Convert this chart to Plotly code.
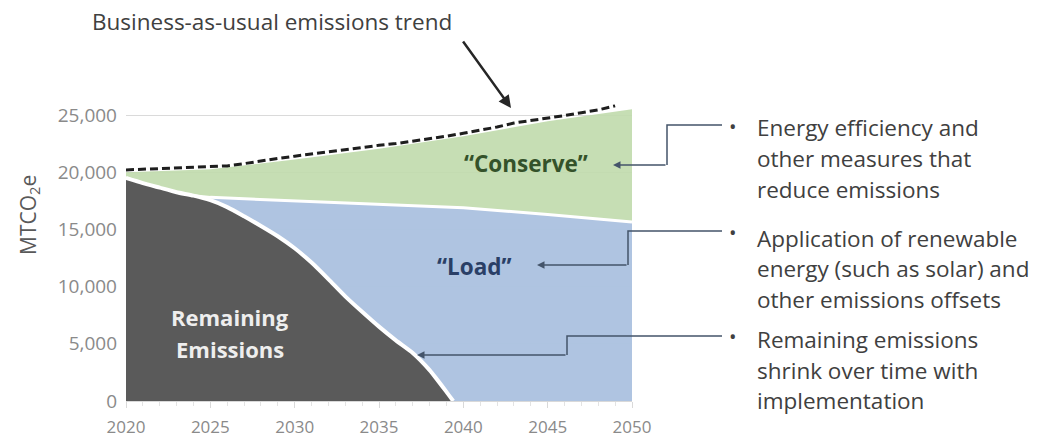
import plotly.graph_objects as go

# ---- data ----
bau_years = list(range(2020, 2050))
bau_trend = [20200, 20250, 20300, 20350, 20400, 20450, 20550, 20750, 21000, 21200,
             21400, 21600, 21800, 22000, 22200, 22350, 22500, 22700, 22900, 23150,
             23400, 23650, 23950, 24300, 24500, 24700, 24950, 25200, 25450, 25800]

conserve_years = [2020, 2025, 2030, 2035, 2040, 2045, 2050]
conserve_top = [20000, 20250, 21100, 22050, 23150, 24450, 25500]

load_years = [2020, 2021, 2022, 2023, 2024, 2025, 2030, 2035, 2040, 2045, 2050]
load_top = [19500, 19000, 18550, 18200, 17950, 17800, 17500, 17250, 16900, 16300, 15650]

remaining_years = [2020, 2021, 2022, 2023, 2024, 2025, 2026, 2027, 2028, 2029, 2030,
                   2031, 2032, 2033, 2034, 2035, 2036, 2037, 2038, 2039, 2039.4]
remaining = [19500, 19050, 18650, 18250, 17950, 17550, 16950, 16150, 15300, 14400, 13350,
             12100, 10650, 9150, 7800, 6500, 5300, 4200, 2700, 800, 0]

y_ticks = [0, 5000, 10000, 15000, 20000, 25000]
x_ticks = [2020, 2025, 2030, 2035, 2040, 2045, 2050]

bullets = [
    ["Energy efficiency and", "other measures that", "reduce emissions"],
    ["Application of renewable", "energy (such as solar) and", "other emissions offsets"],
    ["Remaining emissions", "shrink over time with", "implementation"],
]

# ---- layout geometry (pixels) ----
W, H = 1048, 439
L, R, T, B = 126, 632, 80, 401


def px(x):
    return (x - L) / (R - L)


def py(y):
    return (B - y) / (B - T)


FONT = "Open Sans"
TXT = "#404040"

fig = go.Figure()

fig.add_trace(go.Scatter(x=conserve_years, y=conserve_top, mode="lines", fill="tozeroy",
                         fillcolor="rgba(192,218,172,0.9)", line=dict(width=0),
                         hoverinfo="skip", showlegend=False))
fig.add_trace(go.Scatter(x=load_years, y=load_top, mode="lines", fill="tozeroy",
                         fillcolor="rgba(172,193,230,0.9)", line=dict(color="white", width=3),
                         hoverinfo="skip", showlegend=False))
fig.add_trace(go.Scatter(x=remaining_years, y=remaining, mode="lines", fill="tozeroy",
                         fillcolor="#5a5a5a", line=dict(color="white", width=4, shape="spline", smoothing=0.6),
                         hoverinfo="skip", showlegend=False))
fig.add_trace(go.Scatter(x=bau_years, y=bau_trend, mode="lines",
                         line=dict(color="#1e1e1e", width=3, dash="8px,4px"),
                         hoverinfo="skip", showlegend=False))

annotations = []


def label(x, y, text, size, color, bold=False, xanchor="center", angle=0):
    f = dict(family=FONT, size=size, color=color)
    if bold:
        f["weight"] = "bold"
    annotations.append(dict(xref="paper", yref="paper", x=px(x), y=py(y), text=text,
                            xanchor=xanchor, yanchor="middle", showarrow=False,
                            textangle=angle, font=f))


def arrow(tip_x, tip_y, tail_x, tail_y, width, color):
    annotations.append(dict(xref="paper", yref="paper", x=px(tip_x), y=py(tip_y), text="",
                            showarrow=True, ax=tail_x - tip_x, ay=tail_y - tip_y,
                            arrowhead=2, arrowsize=1, arrowwidth=width, arrowcolor=color))


# top caption + arrow
label(272, 21, "Business-as-usual emissions trend", 22.5, TXT)
arrow(511, 108, 462, 40, 2.5, "#262626")

# y axis title
label(29, 215, "MTCO<sub>2</sub>e", 21, "#595959", angle=-90)

# in-chart labels
label(526, 163, "\u201cConserve\u201d", 22.5, "#34522a", bold=True)
label(474, 266, "\u201cLoad\u201d", 22.5, "#2a3f66", bold=True)
label(230, 317, "Remaining", 22, "#eeeeee", bold=True)
label(230, 349, "Emissions", 22, "#eeeeee", bold=True)

# bullet text
line_y = [[127, 158, 189], [238, 268, 299], [339, 370, 400]]
bullet_y = [126, 232, 336]
for block, ys, by in zip(bullets, line_y, bullet_y):
    label(733, by, "\u2022", 20, TXT)
    for t, yy in zip(block, ys):
        label(755, yy, t, 22.5, TXT, xanchor="left")

# elbow connectors
CONN = "#44546a"
connectors = [
    # (start x, start y, elbow x, end y, tip x)
    (722, 125, 667, 165, 613),
    (722, 231, 628, 265, 537),
    (722, 336, 567, 355, 417),
]
shapes = []
for sx, sy, ex, ey, tx in connectors:
    path = f"M {px(sx)},{py(sy)} L {px(ex)},{py(sy)} L {px(ex)},{py(ey)}"
    shapes.append(dict(type="path", xref="paper", yref="paper", path=path,
                       line=dict(color=CONN, width=1.5)))
    arrow(tx, ey, ex, ey, 1.5, CONN)

fig.update_layout(
    width=W, height=H,
    margin=dict(l=L, r=W - R, t=T, b=H - B, autoexpand=False),
    paper_bgcolor="white", plot_bgcolor="white",
    font=dict(family=FONT),
    annotations=annotations,
    shapes=shapes,
    xaxis=dict(range=[2020, 2050], tickvals=x_ticks, ticktext=[str(v) for v in x_ticks],
               automargin=False,
               showgrid=False, zeroline=False, showline=True, linecolor="#d9d9d9", linewidth=1,
               ticks="outside", ticklen=6, tickcolor="#d9d9d9", ticklabelstandoff=5,
               minor=dict(dtick=1, tick0=2020, ticks="outside", ticklen=4, tickcolor="#e3e3e3", showgrid=False),
               tickfont=dict(family=FONT, size=17, color="#8a8a8a")),
    yaxis=dict(range=[0, 25000 * (B - T) / (B - 115)], tickvals=y_ticks,
               ticktext=[f"{v:,}" for v in y_ticks], automargin=False,
               showgrid=True, gridcolor="#dadada", gridwidth=1, zeroline=False, showline=False,
               ticks="", ticklabelstandoff=8,
               tickfont=dict(family=FONT, size=19, color="#8a8a8a")),
)

fig.write_html("out.html")
